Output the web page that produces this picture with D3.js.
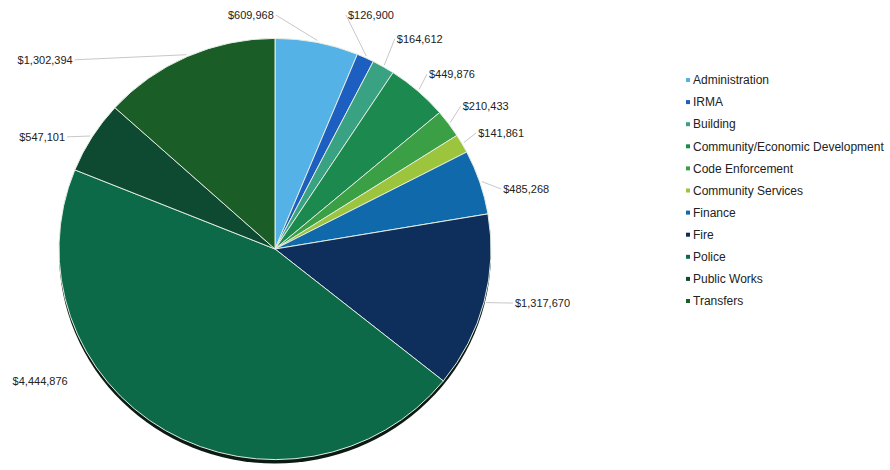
<!DOCTYPE html>
<html>
<head>
<meta charset="utf-8">
<script src="https://cdn.jsdelivr.net/npm/d3@7"></script>
<style>
  body { margin: 0; background: #fff; }
  text { font-family: "Liberation Sans", Arial, sans-serif; fill: #222; }
</style>
</head>
<body>
<div id="chart"></div>
<script>
// Chart data
const categories = ["Administration", "IRMA", "Building", "Community/Economic Development",
  "Code Enforcement", "Community Services", "Finance", "Fire", "Police", "Public Works", "Transfers"];
const values = [609968, 126900, 164612, 449876, 210433, 141861, 485268, 1317670, 4444876, 547101, 1302394];
const colors = ["#55b2e6", "#1d5fc0", "#38a283", "#1c8a4f", "#3a9f45", "#9cc43c",
  "#0f69ab", "#0e2f5b", "#0c6a49", "#0e4a31", "#1b5d27"];

// label placement tweaks: [angle shift in degrees, extra radius, draw leader]
const labelNudge = [[-11.5, -2, true], [-7.4, 9, true], [0, 7, true], [0, -3, true], [-0.8, 0, true],
  [0.3, -2, true], [3.8, 0, true], [-1.9, 10, true], [27, 10, false], [-4, 2, true], [-23, 41, true]];

const width = 890;
const height = 470;
const cx = 275;
const cy = 249;
const radius = 216;
const squash = 0.975;

const svg = d3.select("#chart")
  .append("svg")
  .attr("width", width)
  .attr("height", height);

const pie = d3.pie().sort(null).value(d => d.value);
const arcs = pie(categories.map((c, i) => ({ name: c, value: values[i], color: colors[i] })));

const arc = d3.arc().innerRadius(0).outerRadius(radius);

const g = svg.append("g")
  .attr("transform", `translate(${cx},${cy}) scale(1,${squash})`);

// dark rim under the pie
g.append("circle")
  .attr("cx", 0)
  .attr("cy", 4)
  .attr("r", radius)
  .attr("fill", "#0b1a12");

g.selectAll("path.slice")
  .data(arcs)
  .enter()
  .append("path")
  .attr("class", "slice")
  .attr("d", arc)
  .attr("fill", d => d.data.color)
  .attr("stroke", "#e4efe4")
  .attr("stroke-width", 1);

const fmt = d3.format(",");

// labels and leader lines
arcs.forEach((d, i) => {
  const mid = (d.startAngle + d.endAngle) / 2;
  const ex = cx + Math.sin(mid) * (radius + 2);
  const ey = cy - Math.cos(mid) * (radius + 2) * squash;
  const la = mid + labelNudge[i][0] * Math.PI / 180;
  const lr = radius + 20 + labelNudge[i][1];
  const lx = cx + Math.sin(la) * lr;
  const ly = cy - Math.cos(la) * lr;
  const right = Math.sin(la) >= 0;

  if (labelNudge[i][2]) {
    svg.append("line")
      .attr("x1", ex)
      .attr("y1", ey)
      .attr("x2", lx + (right ? -2 : 2))
      .attr("y2", ly)
      .attr("stroke", "#c8c8c8")
      .attr("stroke-width", 1);
  }

  svg.append("text")
    .attr("x", lx)
    .attr("y", ly)
    .attr("dy", "0.35em")
    .attr("text-anchor", right ? "start" : "end")
    .style("font-size", "11px")
    .text("$" + fmt(d.data.value));
});

// legend
const legend = svg.append("g")
  .attr("transform", "translate(686,80)");

const rows = legend.selectAll("g")
  .data(categories)
  .enter()
  .append("g")
  .attr("transform", (d, i) => `translate(0,${i * 22.1})`);

rows.append("rect")
  .attr("x", 0)
  .attr("y", -2)
  .attr("width", 4)
  .attr("height", 4)
  .attr("fill", (d, i) => colors[i]);

rows.append("text")
  .attr("x", 7)
  .attr("dy", "0.35em")
  .style("font-size", "12px")
  .text(d => d);
</script>
</body>
</html>
